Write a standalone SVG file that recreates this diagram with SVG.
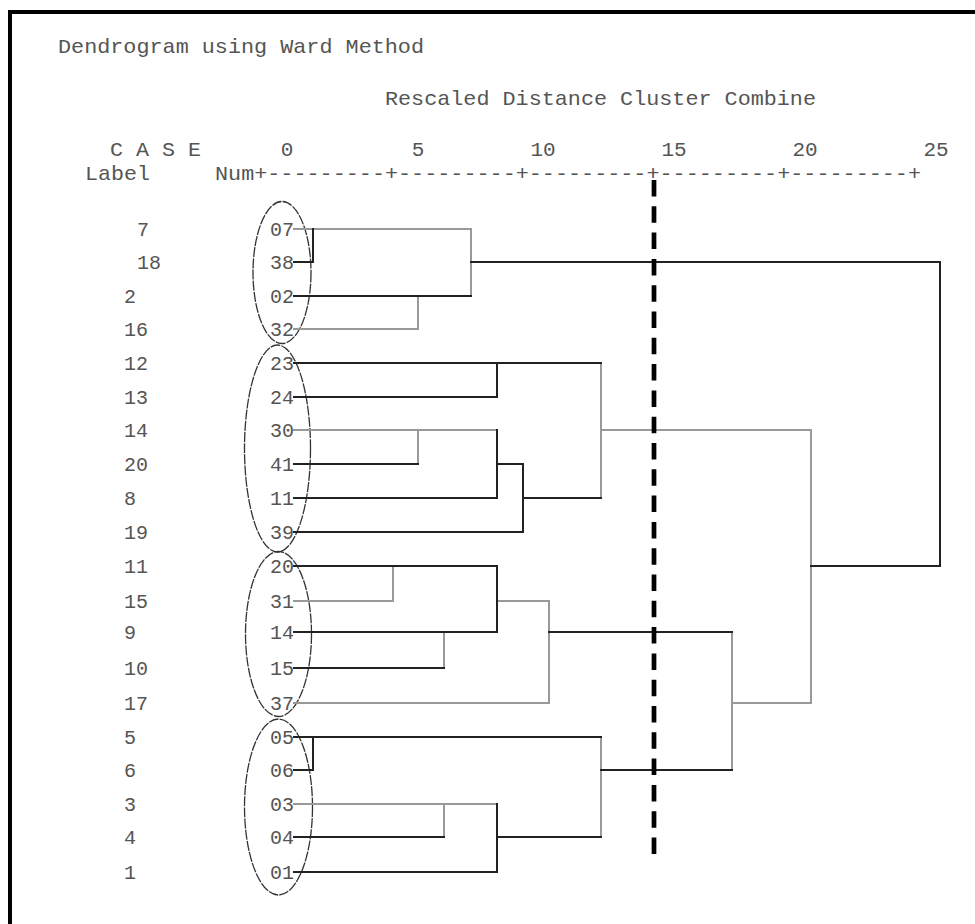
<svg xmlns="http://www.w3.org/2000/svg" width="975" height="924" viewBox="0 0 975 924">
<style>
text{font-family:"Liberation Mono","DejaVu Sans Mono",monospace;font-size:21px;fill:#555}
.lf text{font-size:20px}
.num{text-anchor:end}
.mid{text-anchor:middle}
.d line{stroke:#222;stroke-width:2;stroke-linecap:square}
.g line{stroke:#999;stroke-width:2;stroke-linecap:square}
.ell ellipse{fill:none;stroke:#333;stroke-width:1.3;stroke-dasharray:10 1.2}
</style>
<rect x="0" y="0" width="975" height="924" fill="#fff"/>
<path d="M975,12 H10 V924" fill="none" stroke="#000" stroke-width="4"/>
<g id="header">
<text x="58" y="53" textLength="366" lengthAdjust="spacingAndGlyphs">Dendrogram using Ward Method</text>
<text x="385" y="105" textLength="431" lengthAdjust="spacingAndGlyphs">Rescaled Distance Cluster Combine</text>
<text x="110" y="156" textLength="91" lengthAdjust="spacingAndGlyphs">C A S E</text>
<text class="mid" x="287" y="156">0</text>
<text class="mid" x="418" y="156">5</text>
<text class="mid" x="543" y="156">10</text>
<text class="mid" x="674" y="156">15</text>
<text class="mid" x="805" y="156">20</text>
<text class="mid" x="936" y="156">25</text>
<text x="85" y="180" textLength="65" lengthAdjust="spacingAndGlyphs">Label</text>
<text x="215" y="180" textLength="706" lengthAdjust="spacingAndGlyphs">Num+---------+---------+---------+---------+---------+</text>
</g>
<g class="lf">
<g id="leaf-07"><text x="137" y="236">7</text><text class="num" x="294" y="236">07</text></g>
<g id="leaf-38"><text x="137" y="269">18</text><text class="num" x="294" y="269">38</text></g>
<g id="leaf-02"><text x="124" y="303">2</text><text class="num" x="294" y="303">02</text></g>
<g id="leaf-32"><text x="124" y="336">16</text><text class="num" x="294" y="336">32</text></g>
<g id="leaf-23"><text x="124" y="370">12</text><text class="num" x="294" y="370">23</text></g>
<g id="leaf-24"><text x="124" y="404">13</text><text class="num" x="294" y="404">24</text></g>
<g id="leaf-30"><text x="124" y="437">14</text><text class="num" x="294" y="437">30</text></g>
<g id="leaf-41"><text x="124" y="471">20</text><text class="num" x="294" y="471">41</text></g>
<g id="leaf-11"><text x="124" y="505">8</text><text class="num" x="294" y="505">11</text></g>
<g id="leaf-39"><text x="124" y="539">19</text><text class="num" x="294" y="539">39</text></g>
<g id="leaf-20"><text x="124" y="573">11</text><text class="num" x="294" y="573">20</text></g>
<g id="leaf-31"><text x="124" y="608">15</text><text class="num" x="294" y="608">31</text></g>
<g id="leaf-14"><text x="124" y="639">9</text><text class="num" x="294" y="639">14</text></g>
<g id="leaf-15"><text x="124" y="675">10</text><text class="num" x="294" y="675">15</text></g>
<g id="leaf-37"><text x="124" y="710">17</text><text class="num" x="294" y="710">37</text></g>
<g id="leaf-05"><text x="124" y="744">5</text><text class="num" x="294" y="744">05</text></g>
<g id="leaf-06"><text x="124" y="777">6</text><text class="num" x="294" y="777">06</text></g>
<g id="leaf-03"><text x="124" y="811">3</text><text class="num" x="294" y="811">03</text></g>
<g id="leaf-04"><text x="124" y="844">4</text><text class="num" x="294" y="844">04</text></g>
<g id="leaf-01"><text x="124" y="879">1</text><text class="num" x="294" y="879">01</text></g>
</g>
<g id="groups" class="ell">
<ellipse cx="282" cy="272.5" rx="29" ry="71"/>
<ellipse cx="277.5" cy="448.5" rx="33" ry="103.5"/>
<ellipse cx="278.5" cy="634" rx="33" ry="82.5"/>
<ellipse cx="278.5" cy="807" rx="34" ry="88"/>
</g>
<g id="connectors">
<g class="g">
<line x1="294" y1="229" x2="471" y2="229"/>
<line x1="294" y1="329" x2="418" y2="329"/>
<line x1="418" y1="296" x2="418" y2="329"/>
<line x1="471" y1="229" x2="471" y2="296"/>
<line x1="294" y1="430" x2="497" y2="430"/>
<line x1="418" y1="430" x2="418" y2="464"/>
<line x1="294" y1="601" x2="393" y2="601"/>
<line x1="393" y1="566" x2="393" y2="601"/>
<line x1="444" y1="632" x2="444" y2="668"/>
<line x1="294" y1="703" x2="549" y2="703"/>
<line x1="549" y1="601" x2="549" y2="703"/>
<line x1="497" y1="601" x2="549" y2="601"/>
<line x1="601" y1="363" x2="601" y2="498"/>
<line x1="601" y1="430" x2="811" y2="430"/>
<line x1="811" y1="430" x2="811" y2="703"/>
<line x1="732" y1="703" x2="811" y2="703"/>
<line x1="732" y1="632" x2="732" y2="770"/>
<line x1="601" y1="737" x2="601" y2="837"/>
<line x1="294" y1="804" x2="497" y2="804"/>
<line x1="444" y1="804" x2="444" y2="837"/>
</g>
<g class="d">
<line x1="294" y1="262" x2="313" y2="262"/>
<line x1="313" y1="229" x2="313" y2="262"/>
<line x1="294" y1="296" x2="471" y2="296"/>
<line x1="471" y1="262" x2="940" y2="262"/>
<line x1="940" y1="262" x2="940" y2="566"/>
<line x1="811" y1="566" x2="940" y2="566"/>
<line x1="294" y1="363" x2="601" y2="363"/>
<line x1="294" y1="397" x2="497" y2="397"/>
<line x1="497" y1="363" x2="497" y2="397"/>
<line x1="294" y1="464" x2="418" y2="464"/>
<line x1="294" y1="498" x2="497" y2="498"/>
<line x1="497" y1="430" x2="497" y2="498"/>
<line x1="497" y1="464" x2="523" y2="464"/>
<line x1="523" y1="464" x2="523" y2="532"/>
<line x1="294" y1="532" x2="523" y2="532"/>
<line x1="523" y1="498" x2="601" y2="498"/>
<line x1="294" y1="566" x2="497" y2="566"/>
<line x1="497" y1="566" x2="497" y2="632"/>
<line x1="294" y1="632" x2="497" y2="632"/>
<line x1="294" y1="668" x2="444" y2="668"/>
<line x1="549" y1="632" x2="732" y2="632"/>
<line x1="294" y1="737" x2="601" y2="737"/>
<line x1="313" y1="737" x2="313" y2="770"/>
<line x1="294" y1="770" x2="313" y2="770"/>
<line x1="601" y1="770" x2="732" y2="770"/>
<line x1="294" y1="837" x2="444" y2="837"/>
<line x1="294" y1="872" x2="497" y2="872"/>
<line x1="497" y1="804" x2="497" y2="872"/>
<line x1="497" y1="837" x2="601" y2="837"/>
</g>
</g>
<line id="cut-line" x1="654" y1="180" x2="654" y2="854" stroke="#000" stroke-width="4.7" stroke-dasharray="16.5 9.8"/>
</svg>
